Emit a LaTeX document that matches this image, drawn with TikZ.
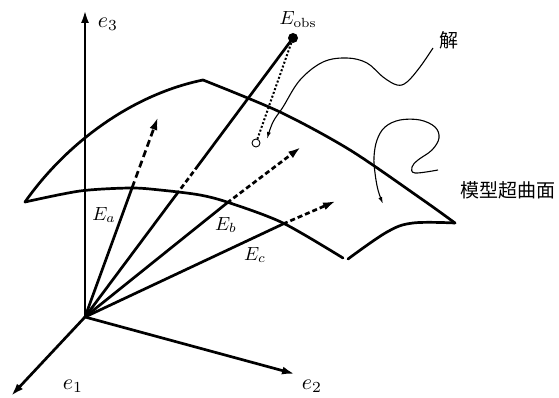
\documentclass[tikz,border=0pt]{standalone}
\usepackage{fontspec}
\newfontfamily\cjk{Noto Sans CJK SC}
\usetikzlibrary{arrows.meta}
\tikzset{
  thick line/.style={line width=2.7pt, line cap=round, line join=round},
  big arrow/.style={-{Latex[length=13pt,width=8pt]}},
  hidden/.style={line width=2.7pt, dash pattern=on 7pt off 4pt},
  hidden short/.style={line width=2.7pt, dash pattern=on 5pt off 3pt},
  thin curve/.style={line width=1.1pt},
  lbl/.style={inner sep=0pt, scale=1.9, transform shape},
  axlbl/.style={inner sep=0pt, scale=2.2, transform shape},
  cjklbl/.style={inner sep=0pt, font=\cjk\fontsize{19}{21}\selectfont}
}
\begin{document}
\begin{tikzpicture}[x=1pt,y=-1pt]
\useasboundingbox (0,0) rectangle (559,398);
% key points
\coordinate (O) at (85,317);
\coordinate (e3t) at (85,10);
\coordinate (e1t) at (11,396);
\coordinate (e2t) at (295,374);
\coordinate (L) at (25,202);
\coordinate (P) at (203,80);
\coordinate (R) at (455,223);
\coordinate (Ia) at (132,188);
\coordinate (Ta) at (158,117);
\coordinate (Ib) at (227,203);
\coordinate (Tb) at (301,147);
\coordinate (Ic) at (283,224);
\coordinate (Tc) at (336,201);
\coordinate (Io1) at (176,195);
\coordinate (Io2) at (197,167);
\node[circle, fill=black, inner sep=0pt, minimum size=10pt] (obs) at (293,38) {};
\node[circle, draw=black, line width=0.9pt, inner sep=0pt, minimum size=8pt] (sol) at (256,143) {};
% axes
\draw[thick line, big arrow] (O) -- (e3t);
\draw[thick line, big arrow] (O) -- (e1t);
\draw[thick line, big arrow] (O) -- (e2t);
% surface
\draw[thick line] (L) .. controls (65,145) and (130,95) .. (P);
\draw[thick line] plot[smooth, tension=0.5] coordinates {(203,80) (280,112) (350,150) (423,200) (455,223)};
\draw[thick line] plot[smooth, tension=0.5] coordinates {(25,202) (80,191) (130,188) (160,190) (200,195) (230,203) (283,223) (343,258)};
\draw[thick line] plot[smooth, tension=0.6] coordinates {(348,259) (387,232) (413,223) (455,223)};
% vectors
\draw[thick line] (O) -- (Ia);
\draw[hidden, big arrow] (Ia) -- (Ta);
\draw[thick line] (O) -- (Ib);
\draw[hidden short, big arrow] (Ib) -- (Tb);
\draw[thick line] (O) -- (Ic);
\draw[hidden short, big arrow] (Ic) -- (Tc);
\draw[thick line] (O) -- (Io1);
\draw[hidden short] (Io1) -- (Io2);
\draw[thick line] (Io2) -- (obs.center);
% projection
\draw[line width=2pt, dash pattern=on 2pt off 2pt] (obs) -- (sol);
% label curves
\draw[thin curve, -{Latex[length=7pt,width=4pt]}] plot[smooth, tension=0.6] coordinates {(433,48) (420,67) (407,82) (397,85) (383,77) (367,63) (347,58) (323,62) (300,80) (283,107) (273,122) (267,139)};
\draw[thin curve, -{Latex[length=7pt,width=4pt]}] plot[smooth, tension=0.6] coordinates {(438,170) (415,173) (412,167) (418,160) (432,150) (439,138) (435,127) (420,120) (400,120) (385,127) (377,140) (374,157) (375,173) (378,190) (383,204)};
% labels
\node[axlbl] (le3) at (108,24) {$e_3$};
\node[axlbl] (le1) at (73,386) {$e_1$};
\node[axlbl] (le2) at (312,386) {$e_2$};
\node[lbl] (lea) at (104,215) {$E_a$};
\node[lbl] (leb) at (226,225) {$E_b$};
\node[lbl] (lec) at (255,255) {$E_c$};
\node[lbl] (leobs) at (298,20) {$E_{\mathrm{obs}}$};
\node[cjklbl] (ljie) at (449,40) {解};
\node[cjklbl] (lmodel) at (508,190) {模型超曲面};
\end{tikzpicture}
\end{document}
